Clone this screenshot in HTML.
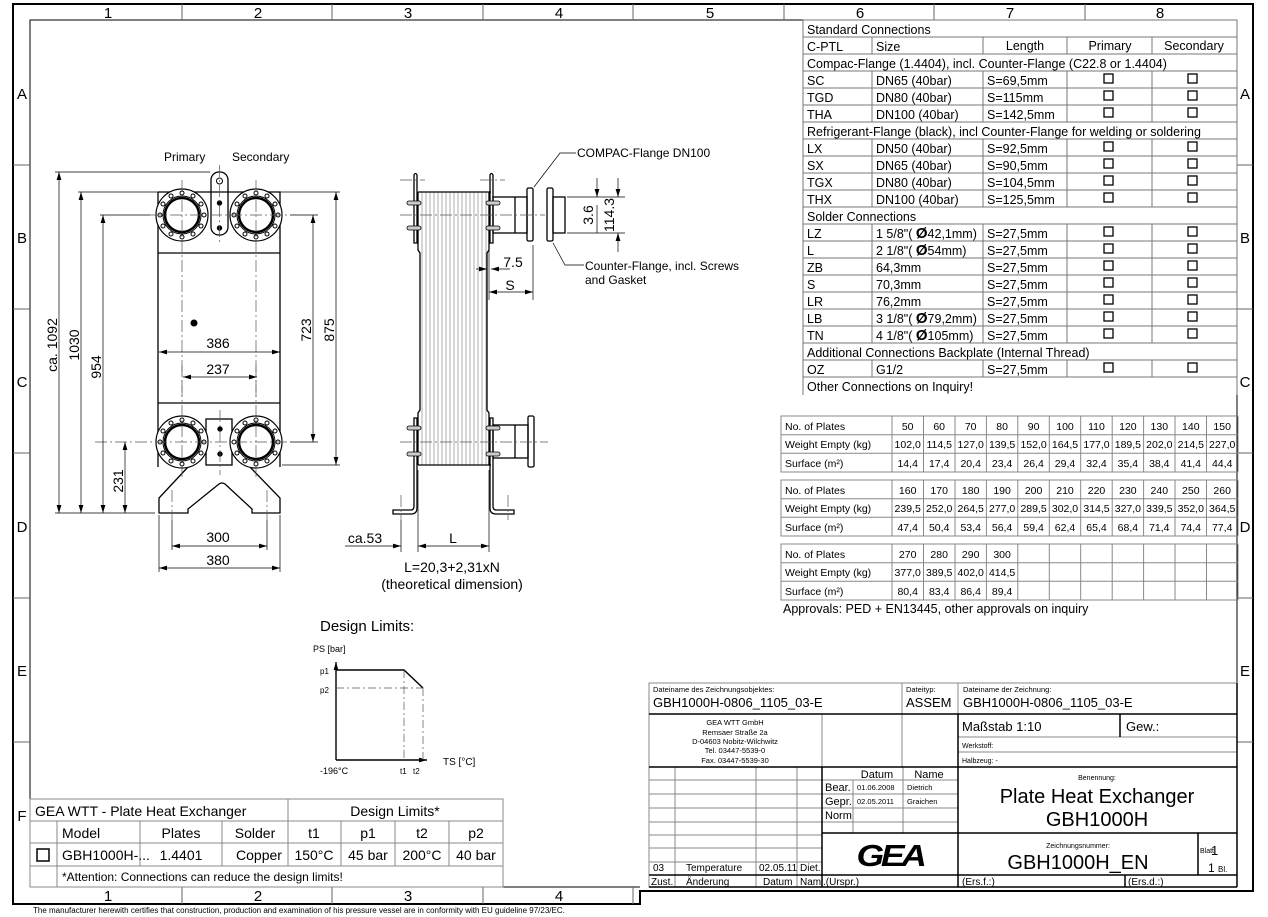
<!DOCTYPE html>
<html><head><meta charset="utf-8"><style>
html,body{margin:0;padding:0;background:#fff}
svg{display:block}
text{font-family:"Liberation Sans",sans-serif;fill:#000}
</style></head><body>
<svg width="1268" height="917" viewBox="0 0 1268 917" xmlns="http://www.w3.org/2000/svg">
<defs>
<marker id="ar" viewBox="0 0 10 6" refX="10" refY="3" markerWidth="8" markerHeight="5" orient="auto-start-reverse" markerUnits="userSpaceOnUse"><path d="M0,0L10,3L0,6z" fill="#000"/></marker>
<g id="cc"><line x1="872" y1="0" x2="872" y2="17"/><line x1="983" y1="0" x2="983" y2="17"/><line x1="1067" y1="0" x2="1067" y2="17"/><line x1="1152" y1="0" x2="1152" y2="17"/></g>
<g id="cb" fill="none" stroke="#000" stroke-width="1.3"><rect x="1104" y="0" width="9" height="9"/><rect x="1188" y="0" width="9" height="9"/></g>
<g id="pt">
<rect x="781" y="0" width="457" height="56"/>
<line x1="781" y1="18.7" x2="1238" y2="18.7"/><line x1="781" y1="37.3" x2="1238" y2="37.3"/>
<line x1="892" y1="0" x2="892" y2="56"/><line x1="923.5" y1="0" x2="923.5" y2="56"/><line x1="955" y1="0" x2="955" y2="56"/><line x1="986.4" y1="0" x2="986.4" y2="56"/><line x1="1017.8" y1="0" x2="1017.8" y2="56"/><line x1="1049.3" y1="0" x2="1049.3" y2="56"/><line x1="1080.7" y1="0" x2="1080.7" y2="56"/><line x1="1112.2" y1="0" x2="1112.2" y2="56"/><line x1="1143.6" y1="0" x2="1143.6" y2="56"/><line x1="1175" y1="0" x2="1175" y2="56"/><line x1="1206.5" y1="0" x2="1206.5" y2="56"/>
</g>
</defs>
<rect width="1268" height="917" fill="#fff"/>
<!-- frame -->
<g fill="none" stroke="#000">
<path d="M13,904 L13,4 L1253,4 L1253,891 L640,891 L640,904 Z" stroke-width="2"/>
<path d="M30,887 L30,20 L1237,20 L1237,887" stroke-width="1"/>
<path d="M30,887 L640,887" stroke-width="1"/>
</g>
<g stroke="#666" stroke-width="1">
<line x1="182" y1="4" x2="182" y2="20"/><line x1="332" y1="4" x2="332" y2="20"/><line x1="483" y1="4" x2="483" y2="20"/><line x1="633" y1="4" x2="633" y2="20"/><line x1="784" y1="4" x2="784" y2="20"/><line x1="934" y1="4" x2="934" y2="20"/><line x1="1085" y1="4" x2="1085" y2="20"/>
<line x1="182" y1="887" x2="182" y2="904"/><line x1="332" y1="887" x2="332" y2="904"/><line x1="483" y1="887" x2="483" y2="904"/><line x1="633" y1="887" x2="633" y2="904"/>
<line x1="13" y1="165" x2="30" y2="165"/><line x1="13" y1="309" x2="30" y2="309"/><line x1="13" y1="453" x2="30" y2="453"/><line x1="13" y1="598" x2="30" y2="598"/><line x1="13" y1="742" x2="30" y2="742"/>
<line x1="1237" y1="165" x2="1253" y2="165"/><line x1="1237" y1="309" x2="1253" y2="309"/><line x1="1237" y1="453" x2="1253" y2="453"/><line x1="1237" y1="598" x2="1253" y2="598"/><line x1="1237" y1="742" x2="1253" y2="742"/>
</g>
<g font-size="15" text-anchor="middle">
<text x="108" y="18">1</text><text x="258" y="18">2</text><text x="408" y="18">3</text><text x="559" y="18">4</text><text x="710" y="18">5</text><text x="860" y="18">6</text><text x="1010" y="18">7</text><text x="1160" y="18">8</text>
<text x="108" y="901">1</text><text x="258" y="901">2</text><text x="408" y="901">3</text><text x="559" y="901">4</text>
<text x="22" y="99">A</text><text x="22" y="243">B</text><text x="22" y="387">C</text><text x="22" y="532">D</text><text x="22" y="676">E</text><text x="22" y="821">F</text>
<text x="1245" y="99">A</text><text x="1245" y="243">B</text><text x="1245" y="387">C</text><text x="1245" y="532">D</text><text x="1245" y="676">E</text>
</g>
<text x="33" y="913" font-size="8">The manufacturer herewith certifies that construction, production and examination of his pressure vessel are in conformity with EU guideline 97/23/EC.</text>

<!-- FRONT VIEW -->
<g fill="none" stroke="#000" stroke-width="1.3">
<path d="M158,192 L280,192 L280,467 M158,192 L158,467"/>
<line x1="158" y1="253" x2="280" y2="253"/>
<line x1="158" y1="403" x2="280" y2="403"/>
<path d="M188,467 L159,498 L159,513 L188,513 L188,509 L219,484 Q222,482 225,484 L252,509 L252,513 L280,513 L280,498 L250,467"/>
<rect x="211" y="172" width="17" height="63" rx="8"/>
<rect x="206" y="419" width="26" height="46"/>
</g>
<g fill="none" stroke="#000">
<circle cx="219.5" cy="181" r="3"/><circle cx="219.5" cy="203" r="2.2" fill="#000"/><circle cx="219.5" cy="228" r="2.2" fill="#000"/>
<circle cx="220" cy="429" r="2.2" fill="#000"/><circle cx="220" cy="454" r="2.2" fill="#000"/>
</g>
<circle cx="194" cy="323" r="3.5" fill="#000"/>
<g id="fl" fill="#fff" stroke="#000">
<circle cx="182" cy="215" r="26" stroke-width="1.2"/>
<circle cx="182" cy="215" r="19" stroke-width="1"/>
<circle cx="182" cy="215" r="17" stroke-width="2.5"/>
<g stroke-width="1" fill="#fff">
<circle cx="204" cy="215" r="2"/><circle cx="160" cy="215" r="2"/><circle cx="182" cy="193" r="2"/><circle cx="182" cy="237" r="2"/>
<circle cx="201" cy="204" r="2"/><circle cx="193" cy="196" r="2"/><circle cx="171" cy="196" r="2"/><circle cx="163" cy="204" r="2"/>
<circle cx="163" cy="226" r="2"/><circle cx="171" cy="234" r="2"/><circle cx="193" cy="234" r="2"/><circle cx="201" cy="226" r="2"/>
</g>
</g>
<use href="#fl" transform="translate(74,0)"/>
<use href="#fl" transform="translate(0,227)"/>
<use href="#fl" transform="translate(74,227)"/>
<g stroke="#555" stroke-width="0.7" stroke-dasharray="12,3,2,3" fill="none">
<line x1="150" y1="215" x2="290" y2="215"/><line x1="95" y1="442" x2="290" y2="442"/>
<line x1="182" y1="180" x2="182" y2="400"/><line x1="256" y1="180" x2="256" y2="400"/>
<line x1="182" y1="365" x2="182" y2="478"/><line x1="256" y1="365" x2="256" y2="478"/>
<line x1="219.5" y1="165" x2="219.5" y2="245"/><line x1="220" y1="410" x2="220" y2="475"/>
<line x1="172" y1="490" x2="172" y2="520"/><line x1="267" y1="490" x2="267" y2="520"/>
</g>
<g stroke="#000" stroke-width="0.7" fill="none">
<line x1="55" y1="172" x2="210" y2="172"/><line x1="78" y1="192" x2="158" y2="192"/><line x1="280" y1="192" x2="340" y2="192"/>
<line x1="100" y1="215" x2="150" y2="215"/><line x1="290" y1="215" x2="318" y2="215"/>
<line x1="290" y1="442" x2="318" y2="442"/><line x1="282" y1="465" x2="340" y2="465"/>
<line x1="55" y1="513" x2="155" y2="513"/>
<line x1="172" y1="520" x2="172" y2="550"/><line x1="267" y1="520" x2="267" y2="550"/>
<line x1="159" y1="515" x2="159" y2="572"/><line x1="280" y1="515" x2="280" y2="572"/>
<g marker-start="url(#ar)" marker-end="url(#ar)">
<line x1="59" y1="172" x2="59" y2="513"/><line x1="81" y1="192" x2="81" y2="513"/><line x1="103" y1="215" x2="103" y2="513"/><line x1="125" y1="442" x2="125" y2="513"/>
<line x1="313" y1="215" x2="313" y2="442"/><line x1="336" y1="192" x2="336" y2="465"/>
<line x1="159" y1="352" x2="280" y2="352"/><line x1="183" y1="377" x2="257" y2="377"/>
<line x1="172" y1="546" x2="267" y2="546"/><line x1="159" y1="568" x2="280" y2="568"/>
</g>
</g>
<g font-size="14" text-anchor="middle">
<text x="218" y="348">386</text><text x="218" y="374">237</text><text x="218" y="542">300</text><text x="218" y="565">380</text>
<text transform="translate(57,345) rotate(-90)">ca. 1092</text>
<text transform="translate(79,345) rotate(-90)">1030</text>
<text transform="translate(101,367) rotate(-90)">954</text>
<text transform="translate(123,481) rotate(-90)">231</text>
<text transform="translate(311,330) rotate(-90)">723</text>
<text transform="translate(334,330) rotate(-90)">875</text>
</g>
<g font-size="12"><text x="164" y="161">Primary</text><text x="232" y="161">Secondary</text></g>

<!-- SIDE VIEW -->
<g stroke="#777" stroke-width="0.6">
<line x1="422" y1="192" x2="422" y2="465"/><line x1="426" y1="192" x2="426" y2="465"/><line x1="430" y1="192" x2="430" y2="465"/><line x1="434" y1="192" x2="434" y2="465"/><line x1="438" y1="192" x2="438" y2="465"/><line x1="442" y1="192" x2="442" y2="465"/><line x1="446" y1="192" x2="446" y2="465"/><line x1="450" y1="192" x2="450" y2="465"/><line x1="454" y1="192" x2="454" y2="465"/><line x1="458" y1="192" x2="458" y2="465"/><line x1="462" y1="192" x2="462" y2="465"/><line x1="466" y1="192" x2="466" y2="465"/><line x1="470" y1="192" x2="470" y2="465"/><line x1="474" y1="192" x2="474" y2="465"/><line x1="478" y1="192" x2="478" y2="465"/><line x1="482" y1="192" x2="482" y2="465"/><line x1="486" y1="192" x2="486" y2="465"/>
</g>
<g fill="none" stroke="#000" stroke-width="1.3">
<line x1="418" y1="192" x2="491" y2="192"/><line x1="418" y1="465" x2="491" y2="465"/>
<path d="M418,192 L418,250 L420,253 L420,410 L418,413 L418,465"/>
<path d="M489,192 L489,250 L487,253 L487,410 L489,413 L489,465"/>
<path d="M414,175 Q415.5,172 417,175 L417,243 L414,243 Z"/>
<path d="M490,175 Q491.5,172 493,175 L493,243 L490,243 Z"/>
<path d="M414,418 L417,418 L417,508 Q417,514 411,514 L393,514 L393,510 L411,510 Q414,510 414,506 Z"/>
<path d="M490,418 L493,418 L493,506 Q493,510 496,510 L514,510 L514,514 L496,514 Q490,514 490,508 Z"/>
<rect x="493" y="197" width="34" height="36"/><line x1="515" y1="197" x2="515" y2="233"/>
<rect x="527" y="188" width="6" height="53" rx="1.5"/>
<rect x="547" y="188" width="6" height="53" rx="1.5"/>
<rect x="553" y="197" width="12" height="36"/>
<rect x="493" y="425" width="35" height="33"/><line x1="515" y1="425" x2="515" y2="458"/>
<rect x="528" y="416" width="6" height="51" rx="1.5"/>
</g>
<g fill="#ccc" stroke="#000" stroke-width="0.8">
<rect x="407" y="201" width="14" height="4" rx="2"/><rect x="407" y="226" width="14" height="4" rx="2"/>
<rect x="486" y="201" width="14" height="4" rx="2"/><rect x="486" y="226" width="14" height="4" rx="2"/>
<rect x="407" y="426" width="14" height="4" rx="2"/><rect x="407" y="452" width="14" height="4" rx="2"/>
<rect x="486" y="426" width="14" height="4" rx="2"/><rect x="486" y="452" width="14" height="4" rx="2"/>
</g>
<g stroke="#555" stroke-width="0.7" stroke-dasharray="12,3,2,3" fill="none">
<line x1="400" y1="215" x2="545" y2="215"/><line x1="400" y1="180" x2="425" y2="180"/><line x1="480" y1="180" x2="505" y2="180"/>
<line x1="400" y1="442" x2="548" y2="442"/>
<line x1="401" y1="495" x2="401" y2="520"/><line x1="508" y1="495" x2="508" y2="520"/>
</g>
<g stroke="#000" stroke-width="0.7" fill="none">
<line x1="567" y1="197" x2="625" y2="197"/><line x1="567" y1="233" x2="625" y2="233"/>
<line x1="597" y1="178" x2="597" y2="197" marker-end="url(#ar)"/><line x1="597" y1="233" x2="597" y2="205"/>
<line x1="618" y1="178" x2="618" y2="197" marker-end="url(#ar)"/><line x1="618" y1="252" x2="618" y2="233" marker-end="url(#ar)"/>
<line x1="489" y1="250" x2="489" y2="300"/><line x1="533" y1="245" x2="533" y2="300"/>
<line x1="476" y1="269" x2="487" y2="269" marker-end="url(#ar)"/><line x1="510" y1="269" x2="491" y2="269" marker-end="url(#ar)"/>
<line x1="489" y1="292" x2="533" y2="292" marker-start="url(#ar)" marker-end="url(#ar)"/>
<line x1="401" y1="520" x2="401" y2="552"/><line x1="418" y1="470" x2="418" y2="552"/><line x1="489" y1="470" x2="489" y2="552"/>
<line x1="345" y1="546" x2="401" y2="546" marker-end="url(#ar)"/><line x1="418" y1="546" x2="489" y2="546" marker-start="url(#ar)" marker-end="url(#ar)"/>
<path d="M576,153 L560,153 L534,187"/>
<path d="M584,265 L565,265 L553,243"/>
</g>
<g font-size="14" text-anchor="middle">
<text transform="translate(593,215) rotate(-90)">3.6</text>
<text transform="translate(614,215) rotate(-90)">114.3</text>
<text x="513" y="267">7.5</text><text x="510" y="290">S</text>
<text x="365" y="543">ca.53</text><text x="453" y="543">L</text>
<text x="452" y="572">L=20,3+2,31xN</text><text x="452" y="589">(theoretical dimension)</text>
</g>
<g font-size="12"><text x="577" y="157">COMPAC-Flange DN100</text><text x="585" y="270">Counter-Flange, incl. Screws</text><text x="585" y="284">and Gasket</text></g>

<!-- DESIGN LIMITS CHART -->
<text x="320" y="631" font-size="15">Design Limits:</text>
<text x="313" y="652" font-size="9">PS [bar]</text>
<text x="320" y="674" font-size="8">p1</text><text x="320" y="693" font-size="8">p2</text>
<g fill="none" stroke="#000">
<line x1="336" y1="760" x2="336" y2="662" stroke-width="1.4" marker-end="url(#ar)"/>
<line x1="336" y1="760" x2="427" y2="760" stroke-width="1.4" marker-end="url(#ar)"/>
<path d="M336,670 L404,670 L423,688" stroke-width="1.4"/>
<g stroke="#555" stroke-width="0.7" stroke-dasharray="8,3,2,3"><line x1="336" y1="688" x2="423" y2="688"/><line x1="404" y1="670" x2="404" y2="760"/><line x1="423" y1="688" x2="423" y2="760"/></g>
</g>
<text x="443" y="765" font-size="10">TS [°C]</text>
<text x="320" y="774" font-size="9">-196°C</text>
<text x="400" y="774" font-size="8">t1</text><text x="413" y="774" font-size="8">t2</text>

<!-- LOWER LEFT TABLE -->
<g fill="none" stroke="#888" stroke-width="1">
<rect x="30" y="799" width="473" height="88"/>
<line x1="30" y1="821" x2="503" y2="821"/><line x1="30" y1="843" x2="503" y2="843"/><line x1="30" y1="866" x2="503" y2="866"/>
<line x1="288" y1="799" x2="288" y2="866"/>
<line x1="57" y1="821" x2="57" y2="887"/>
<line x1="140" y1="821" x2="140" y2="866"/><line x1="222" y1="821" x2="222" y2="866"/>
<line x1="341" y1="821" x2="341" y2="866"/><line x1="395" y1="821" x2="395" y2="866"/><line x1="449" y1="821" x2="449" y2="866"/>
</g>
<rect x="37" y="849" width="12" height="12" fill="none" stroke="#000" stroke-width="1.5"/>
<g font-size="14">
<text x="35" y="816">GEA WTT - Plate Heat Exchanger</text>
<text x="395" y="816" text-anchor="middle">Design Limits*</text>
<text x="62" y="838">Model</text><text x="181" y="838" text-anchor="middle">Plates</text><text x="255" y="838" text-anchor="middle">Solder</text>
<text x="314" y="838" text-anchor="middle">t1</text><text x="368" y="838" text-anchor="middle">p1</text><text x="422" y="838" text-anchor="middle">t2</text><text x="476" y="838" text-anchor="middle">p2</text>
<text x="62" y="860">GBH1000H-...</text><text x="181" y="860" text-anchor="middle">1.4401</text><text x="259" y="860" text-anchor="middle">Copper</text>
<text x="314" y="860" text-anchor="middle">150°C</text><text x="368" y="860" text-anchor="middle">45 bar</text><text x="422" y="860" text-anchor="middle">200°C</text><text x="476" y="860" text-anchor="middle">40 bar</text>
</g>
<text x="62" y="881" font-size="12">*Attention: Connections can reduce the design limits!</text>

<!-- CONNECTIONS TABLE -->
<g fill="none" stroke="#777" stroke-width="1">
<path d="M803,395 L803,20 L1237,20 L1237,395"/>
<line x1="803" y1="37" x2="1237" y2="37"/><line x1="803" y1="54" x2="1237" y2="54"/><line x1="803" y1="71" x2="1237" y2="71"/><line x1="803" y1="88" x2="1237" y2="88"/><line x1="803" y1="105" x2="1237" y2="105"/><line x1="803" y1="122" x2="1237" y2="122"/><line x1="803" y1="139" x2="1237" y2="139"/><line x1="803" y1="156" x2="1237" y2="156"/><line x1="803" y1="173" x2="1237" y2="173"/><line x1="803" y1="190" x2="1237" y2="190"/><line x1="803" y1="207" x2="1237" y2="207"/><line x1="803" y1="224" x2="1237" y2="224"/><line x1="803" y1="241" x2="1237" y2="241"/><line x1="803" y1="258" x2="1237" y2="258"/><line x1="803" y1="275" x2="1237" y2="275"/><line x1="803" y1="292" x2="1237" y2="292"/><line x1="803" y1="309" x2="1237" y2="309"/><line x1="803" y1="326" x2="1237" y2="326"/><line x1="803" y1="343" x2="1237" y2="343"/><line x1="803" y1="360" x2="1237" y2="360"/><line x1="803" y1="377" x2="1237" y2="377"/>
</g>
<g fill="none" stroke="#777">
<use href="#cc" y="37"/><use href="#cc" y="71"/><use href="#cc" y="88"/><use href="#cc" y="105"/>
<use href="#cc" y="139"/><use href="#cc" y="156"/><use href="#cc" y="173"/><use href="#cc" y="190"/>
<use href="#cc" y="224"/><use href="#cc" y="241"/><use href="#cc" y="258"/><use href="#cc" y="275"/><use href="#cc" y="292"/><use href="#cc" y="309"/><use href="#cc" y="326"/>
<use href="#cc" y="360"/>
</g>
<g>
<use href="#cb" y="74"/><use href="#cb" y="91"/><use href="#cb" y="108"/>
<use href="#cb" y="142"/><use href="#cb" y="159"/><use href="#cb" y="176"/><use href="#cb" y="193"/>
<use href="#cb" y="227"/><use href="#cb" y="244"/><use href="#cb" y="261"/><use href="#cb" y="278"/><use href="#cb" y="295"/><use href="#cb" y="312"/><use href="#cb" y="329"/>
<use href="#cb" y="363"/>
</g>
<g font-size="12.5">
<text x="807" y="34">Standard Connections</text>
<text x="807" y="51">C-PTL</text><text x="876" y="51">Size</text><text x="1025" y="50" text-anchor="middle">Length</text><text x="1110" y="50" text-anchor="middle">Primary</text><text x="1194" y="50" text-anchor="middle">Secondary</text>
<text x="807" y="68">Compac-Flange (1.4404), incl. Counter-Flange (C22.8 or 1.4404)</text>
<text x="807" y="85">SC</text><text x="876" y="85">DN65 (40bar)</text><text x="987" y="85">S=69,5mm</text>
<text x="807" y="102">TGD</text><text x="876" y="102">DN80 (40bar)</text><text x="987" y="102">S=115mm</text>
<text x="807" y="119">THA</text><text x="876" y="119">DN100 (40bar)</text><text x="987" y="119">S=142,5mm</text>
<text x="807" y="136">Refrigerant-Flange (black), incl Counter-Flange for welding or soldering</text>
<text x="807" y="153">LX</text><text x="876" y="153">DN50 (40bar)</text><text x="987" y="153">S=92,5mm</text>
<text x="807" y="170">SX</text><text x="876" y="170">DN65 (40bar)</text><text x="987" y="170">S=90,5mm</text>
<text x="807" y="187">TGX</text><text x="876" y="187">DN80 (40bar)</text><text x="987" y="187">S=104,5mm</text>
<text x="807" y="204">THX</text><text x="876" y="204">DN100 (40bar)</text><text x="987" y="204">S=125,5mm</text>
<text x="807" y="221">Solder Connections</text>
<text x="807" y="238">LZ</text><text x="876" y="238">1 5/8"(  <tspan font-size="15" font-weight="bold">Ø</tspan>42,1mm)</text><text x="987" y="238">S=27,5mm</text>
<text x="807" y="255">L</text><text x="876" y="255">2 1/8"(  <tspan font-size="15" font-weight="bold">Ø</tspan>54mm)</text><text x="987" y="255">S=27,5mm</text>
<text x="807" y="272">ZB</text><text x="876" y="272">64,3mm</text><text x="987" y="272">S=27,5mm</text>
<text x="807" y="289">S</text><text x="876" y="289">70,3mm</text><text x="987" y="289">S=27,5mm</text>
<text x="807" y="306">LR</text><text x="876" y="306">76,2mm</text><text x="987" y="306">S=27,5mm</text>
<text x="807" y="323">LB</text><text x="876" y="323">3 1/8"(  <tspan font-size="15" font-weight="bold">Ø</tspan>79,2mm)</text><text x="987" y="323">S=27,5mm</text>
<text x="807" y="340">TN</text><text x="876" y="340">4 1/8"(  <tspan font-size="15" font-weight="bold">Ø</tspan>105mm)</text><text x="987" y="340">S=27,5mm</text>
<text x="807" y="357">Additional Connections Backplate (Internal Thread)</text>
<text x="807" y="374">OZ</text><text x="876" y="374">G1/2</text><text x="987" y="374">S=27,5mm</text>
<text x="807" y="391">Other Connections on Inquiry!</text>
</g>

<!-- PLATE TABLES -->
<g fill="none" stroke="#888" stroke-width="1"><use href="#pt" y="416"/><use href="#pt" y="480"/><use href="#pt" y="544"/></g>
<g font-size="10.5">
<text x="785" y="430">No. of Plates</text><text x="785" y="448">Weight Empty (kg)</text><text x="785" y="467">Surface (m²)</text>
<text x="785" y="494">No. of Plates</text><text x="785" y="512">Weight Empty (kg)</text><text x="785" y="531">Surface (m²)</text>
<text x="785" y="558">No. of Plates</text><text x="785" y="576">Weight Empty (kg)</text><text x="785" y="595">Surface (m²)</text>
</g>
<g font-size="10.5" text-anchor="middle">
<text y="430"><tspan x="907.7">50</tspan><tspan x="939.2">60</tspan><tspan x="970.7">70</tspan><tspan x="1002.1">80</tspan><tspan x="1033.6">90</tspan><tspan x="1065">100</tspan><tspan x="1096.5">110</tspan><tspan x="1127.9">120</tspan><tspan x="1159.3">130</tspan><tspan x="1190.8">140</tspan><tspan x="1222.2">150</tspan></text>
<text y="448"><tspan x="907.7">102,0</tspan><tspan x="939.2">114,5</tspan><tspan x="970.7">127,0</tspan><tspan x="1002.1">139,5</tspan><tspan x="1033.6">152,0</tspan><tspan x="1065">164,5</tspan><tspan x="1096.5">177,0</tspan><tspan x="1127.9">189,5</tspan><tspan x="1159.3">202,0</tspan><tspan x="1190.8">214,5</tspan><tspan x="1222.2">227,0</tspan></text>
<text y="467"><tspan x="907.7">14,4</tspan><tspan x="939.2">17,4</tspan><tspan x="970.7">20,4</tspan><tspan x="1002.1">23,4</tspan><tspan x="1033.6">26,4</tspan><tspan x="1065">29,4</tspan><tspan x="1096.5">32,4</tspan><tspan x="1127.9">35,4</tspan><tspan x="1159.3">38,4</tspan><tspan x="1190.8">41,4</tspan><tspan x="1222.2">44,4</tspan></text>
<text y="494"><tspan x="907.7">160</tspan><tspan x="939.2">170</tspan><tspan x="970.7">180</tspan><tspan x="1002.1">190</tspan><tspan x="1033.6">200</tspan><tspan x="1065">210</tspan><tspan x="1096.5">220</tspan><tspan x="1127.9">230</tspan><tspan x="1159.3">240</tspan><tspan x="1190.8">250</tspan><tspan x="1222.2">260</tspan></text>
<text y="512"><tspan x="907.7">239,5</tspan><tspan x="939.2">252,0</tspan><tspan x="970.7">264,5</tspan><tspan x="1002.1">277,0</tspan><tspan x="1033.6">289,5</tspan><tspan x="1065">302,0</tspan><tspan x="1096.5">314,5</tspan><tspan x="1127.9">327,0</tspan><tspan x="1159.3">339,5</tspan><tspan x="1190.8">352,0</tspan><tspan x="1222.2">364,5</tspan></text>
<text y="531"><tspan x="907.7">47,4</tspan><tspan x="939.2">50,4</tspan><tspan x="970.7">53,4</tspan><tspan x="1002.1">56,4</tspan><tspan x="1033.6">59,4</tspan><tspan x="1065">62,4</tspan><tspan x="1096.5">65,4</tspan><tspan x="1127.9">68,4</tspan><tspan x="1159.3">71,4</tspan><tspan x="1190.8">74,4</tspan><tspan x="1222.2">77,4</tspan></text>
<text y="558"><tspan x="907.7">270</tspan><tspan x="939.2">280</tspan><tspan x="970.7">290</tspan><tspan x="1002.1">300</tspan></text>
<text y="576"><tspan x="907.7">377,0</tspan><tspan x="939.2">389,5</tspan><tspan x="970.7">402,0</tspan><tspan x="1002.1">414,5</tspan></text>
<text y="595"><tspan x="907.7">80,4</tspan><tspan x="939.2">83,4</tspan><tspan x="970.7">86,4</tspan><tspan x="1002.1">89,4</tspan></text>
</g>
<text x="783" y="613" font-size="12.5">Approvals: PED + EN13445, other approvals on inquiry</text>

<!-- TITLE BLOCK -->
<g fill="none" stroke="#888" stroke-width="1">
<rect x="649" y="683" width="588" height="204"/>
<line x1="902" y1="683" x2="902" y2="714"/><line x1="958" y1="683" x2="958" y2="714"/>
<line x1="822" y1="714" x2="822" y2="767"/><line x1="902" y1="714" x2="902" y2="767"/>
<line x1="649" y1="780" x2="822" y2="780"/><line x1="649" y1="794" x2="958" y2="794"/><line x1="649" y1="808" x2="958" y2="808"/><line x1="649" y1="822" x2="958" y2="822"/><line x1="649" y1="835" x2="822" y2="835"/><line x1="649" y1="848" x2="822" y2="848"/><line x1="649" y1="862" x2="822" y2="862"/>
<line x1="822" y1="780" x2="958" y2="780"/>
<line x1="675" y1="767" x2="675" y2="887"/><line x1="756" y1="767" x2="756" y2="887"/><line x1="797" y1="767" x2="797" y2="887"/>
<line x1="853" y1="780" x2="853" y2="833"/><line x1="903" y1="767" x2="903" y2="833"/>
<line x1="958" y1="737" x2="1237" y2="737"/><line x1="958" y1="752" x2="1237" y2="752"/>
</g>
<g fill="none" stroke="#000" stroke-width="1.5">
<line x1="649" y1="714" x2="1237" y2="714"/>
<line x1="649" y1="767" x2="1237" y2="767"/>
<line x1="822" y1="767" x2="822" y2="887"/>
<line x1="958" y1="714" x2="958" y2="887"/>
<line x1="822" y1="833" x2="1237" y2="833"/>
<line x1="649" y1="875" x2="1237" y2="875"/>
<line x1="1120" y1="714" x2="1120" y2="737"/>
<line x1="1198" y1="833" x2="1198" y2="875"/>
<line x1="1125" y1="875" x2="1125" y2="887"/>
<line x1="1237" y1="683" x2="1237" y2="887"/>
<line x1="649" y1="887" x2="1237" y2="887"/>
</g>
<g>
<text x="653" y="692" font-size="7.5">Dateiname des Zeichnungsobjektes:</text>
<text x="653" y="707" font-size="13">GBH1000H-0806_1105_03-E</text>
<text x="906" y="692" font-size="7.5">Dateityp:</text>
<text x="906" y="707" font-size="13">ASSEM</text>
<text x="963" y="692" font-size="7.5">Dateiname der Zeichnung:</text>
<text x="963" y="707" font-size="13">GBH1000H-0806_1105_03-E</text>
<g font-size="7.5" text-anchor="middle"><text x="735" y="725">GEA WTT GmbH</text><text x="735" y="735">Remsaer Straße 2a</text><text x="735" y="744">D-04603 Nobitz-Wilchwitz</text><text x="735" y="753">Tel. 03447-5539-0</text><text x="735" y="763">Fax. 03447-5539-30</text></g>
<text x="962" y="731" font-size="13">Maßstab 1:10</text>
<text x="1126" y="731" font-size="13">Gew.:</text>
<text x="962" y="748" font-size="7">Werkstoff:</text>
<text x="962" y="763" font-size="7">Halbzeug: -</text>
<text x="877" y="778" font-size="11" text-anchor="middle">Datum</text><text x="929" y="778" font-size="11" text-anchor="middle">Name</text>
<text x="825" y="791" font-size="11">Bear.</text><text x="857" y="790" font-size="7.5">01.06.2008</text><text x="907" y="790" font-size="7.5">Dietrich</text>
<text x="825" y="805" font-size="11">Gepr.</text><text x="857" y="804" font-size="7.5">02.05.2011</text><text x="907" y="804" font-size="7.5">Graichen</text>
<text x="825" y="819" font-size="11">Norm</text>
<text x="1097" y="780" font-size="7" text-anchor="middle">Benennung:</text>
<text x="1097" y="803" font-size="20" text-anchor="middle">Plate Heat Exchanger</text>
<text x="1097" y="826" font-size="20" text-anchor="middle">GBH1000H</text>
<text x="1078" y="848" font-size="7" text-anchor="middle">Zeichnungsnummer:</text>
<text x="1078" y="869" font-size="20" text-anchor="middle">GBH1000H_EN</text>
<text x="1200" y="853" font-size="7">Blatt</text><text x="1211" y="855" font-size="13">1</text>
<text x="1208" y="872" font-size="12">1</text><text x="1218" y="872" font-size="8">Bl.</text>
<text x="653" y="871" font-size="10">03</text><text x="686" y="871" font-size="10">Temperature</text><text x="759" y="871" font-size="10">02.05.11</text><text x="800" y="871" font-size="10">Diet.</text>
<text x="651" y="885" font-size="10">Zust.</text><text x="686" y="885" font-size="10">Änderung</text><text x="763" y="885" font-size="10">Datum</text><text x="800" y="885" font-size="10">Nam</text>
<text x="823" y="885" font-size="10">.(Urspr.)</text>
<text x="962" y="885" font-size="10">(Ers.f.:)</text><text x="1128" y="885" font-size="10">(Ers.d.:)</text>
<text x="890" y="866" font-size="31" font-weight="900" font-style="italic" text-anchor="middle" letter-spacing="-3" transform="translate(890,0) scale(1.15,1) translate(-890,0)">GEA</text>
</g>
</svg>
</body></html>
